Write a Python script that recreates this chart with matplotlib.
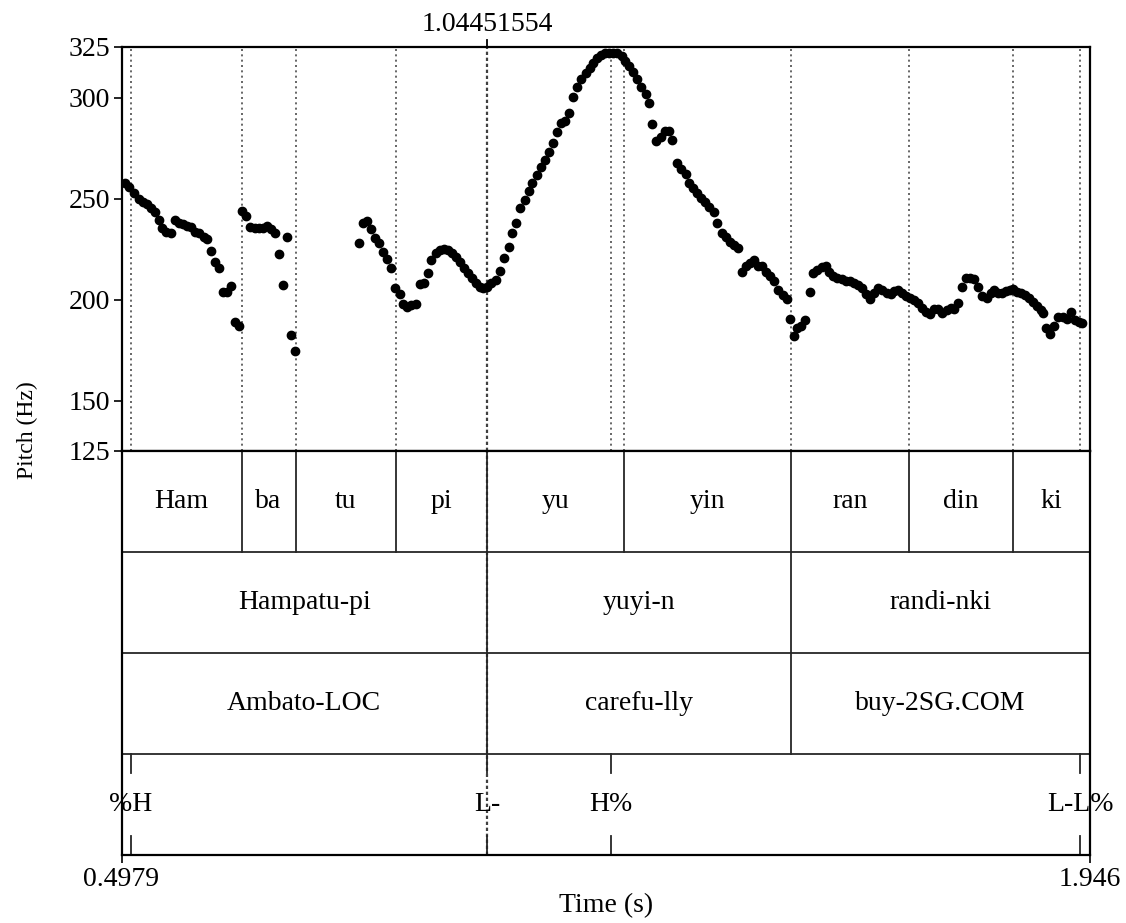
import matplotlib
matplotlib.use("Agg")
import matplotlib.pyplot as plt

plt.rcParams['font.family'] = ['Liberation Serif', 'DejaVu Serif']

# ---------------- data ----------------
t_start, t_end = 0.4979, 1.946
cursor_time = 1.04451554
cursor_label = "1.04451554"

pitch_time = [
    0.5024, 0.5088, 0.5173, 0.5238, 0.5298, 0.5357, 0.5423, 0.5473, 0.5533, 0.5588,
    0.5648, 0.5712, 0.5772, 0.5832, 0.5896, 0.5956, 0.6022, 0.6082, 0.6135, 0.6206,
    0.6261, 0.6321, 0.6381, 0.6435, 0.6495, 0.6554, 0.6614, 0.6669, 0.6734,
    0.6785, 0.6845, 0.6904, 0.6969, 0.7029, 0.7093, 0.7153, 0.7219, 0.7278, 0.7332,
    0.7392, 0.7458, 0.7518, 0.7578,
    0.8529, 0.8589, 0.8655, 0.8715, 0.8774, 0.8828, 0.8888, 0.8954, 0.9014, 0.9073,
    0.9138, 0.9187, 0.9253, 0.9313, 0.9377, 0.9437, 0.9501, 0.9561, 0.9612, 0.9676,
    0.9736, 0.9801, 0.9860, 0.9926, 0.9986, 1.0046, 1.0100, 1.0160, 1.0219, 1.0285,
    1.0345, 1.0384, 1.0444, 1.0510, 1.0574, 1.0644, 1.0698, 1.0768, 1.0824, 1.0884,
    1.0943, 1.1008, 1.1068, 1.1123, 1.1192, 1.1247, 1.1307, 1.1371, 1.1431, 1.1491,
    1.1557, 1.1617, 1.1671, 1.1730, 1.1790, 1.1856, 1.1920, 1.1980, 1.2030, 1.2090,
    1.2155, 1.2205, 1.2269, 1.2329, 1.2389, 1.2455, 1.2514, 1.2568, 1.2628, 1.2688,
    1.2754, 1.2814, 1.2868, 1.2918, 1.2978, 1.3042, 1.3102, 1.3166, 1.3217, 1.3286,
    1.3341, 1.3412, 1.3461, 1.3526, 1.3586, 1.3651, 1.3701, 1.3765, 1.3835, 1.3885,
    1.3951, 1.4015, 1.4075, 1.4135, 1.4190, 1.4250, 1.4310, 1.4374, 1.4434, 1.4498,
    1.4558, 1.4613, 1.4673, 1.4733, 1.4797, 1.4863, 1.4923,
    1.4972, 1.5032, 1.5072, 1.5132, 1.5197, 1.5271, 1.5321, 1.5381, 1.5447, 1.5506,
    1.5560, 1.5620, 1.5680, 1.5746, 1.5806, 1.5870, 1.5930, 1.5994, 1.6054, 1.6109,
    1.6169, 1.6229, 1.6293, 1.6353, 1.6419, 1.6479, 1.6533, 1.6593, 1.6653, 1.6708,
    1.6768, 1.6832, 1.6883, 1.6942, 1.7002, 1.7067, 1.7127, 1.7191, 1.7251, 1.7317,
    1.7376, 1.7430, 1.7490, 1.7550, 1.7605, 1.7665, 1.7729, 1.7789, 1.7849, 1.7915,
    1.7975, 1.8029, 1.8089, 1.8149, 1.8204, 1.8264, 1.8313, 1.8373, 1.8429, 1.8488,
    1.8548, 1.8603, 1.8663, 1.8723, 1.8762, 1.8798, 1.8862, 1.8926, 1.8986, 1.9052,
    1.9112, 1.9172, 1.9236, 1.9301, 1.9337,
]
pitch_hz = [
    257.5, 255.9, 252.9, 249.6, 248.4, 247.3, 245.1, 243.5, 239.4, 235.2,
    233.6, 233.1, 239.4, 238.0, 237.2, 236.4, 235.7, 233.6, 233.1, 231.1,
    229.8, 224.2, 218.4, 215.7, 203.9, 203.9, 206.8, 189.0, 187.0,
    244.0, 241.5, 235.7, 235.5, 235.5, 235.2, 236.4, 234.9, 232.8, 222.5,
    207.2, 231.1, 182.6, 174.5,
    228.1, 238.0, 238.9, 234.8, 230.6, 227.8, 223.7, 219.9, 215.4, 205.5,
    202.7, 197.8, 196.4, 197.3, 197.6, 207.7, 208.0, 213.0, 219.6, 222.9,
    224.5, 224.8, 224.5, 223.2, 221.2, 218.7, 215.7, 213.0, 210.5, 208.3,
    206.3, 205.5, 206.3, 208.0, 209.7, 214.1, 220.7, 225.8, 232.8, 237.7,
    245.1, 249.3, 253.9, 257.5, 261.6, 265.4, 269.1, 273.2, 277.6, 283.1,
    287.2, 288.5, 292.5, 300.4, 305.3, 309.0, 312.0, 314.5, 316.9, 319.4,
    321.0, 321.9, 322.2, 322.2, 321.9, 320.5, 318.2, 315.6, 312.8, 309.0,
    305.3, 301.7, 297.1, 286.9, 278.6, 280.6, 283.6, 283.6, 279.0, 267.7,
    264.5, 262.1, 257.8, 255.0, 252.6, 250.4, 248.1, 245.9, 243.5, 238.0,
    233.1, 230.8, 228.3, 227.0, 225.6, 213.5, 216.6, 218.2, 219.6, 216.6,
    216.6, 213.8, 211.6, 209.2, 204.7, 202.2, 200.1,
    190.3, 181.9, 185.7, 186.9, 189.9, 203.6, 213.3, 214.6, 216.2, 216.6,
    213.8, 211.6, 210.5, 210.0, 209.3, 209.2, 208.3, 207.2, 205.5, 202.7,
    200.1, 203.4, 205.5, 204.7, 203.4, 202.7, 204.2, 204.7, 203.1, 201.7,
    200.9, 199.8, 198.1, 195.6, 194.0, 192.8, 195.1, 195.1, 193.5, 194.8,
    195.6, 195.1, 198.1, 206.3, 210.5, 210.5, 210.0, 206.3, 201.7, 200.9,
    203.1, 204.7, 203.4, 203.1, 204.2, 204.7, 205.1, 203.9, 203.1, 202.2,
    200.5, 198.9, 196.8, 194.8, 193.5, 185.7, 182.9, 186.9, 191.5, 191.2,
    190.3, 194.0, 189.9, 188.8, 188.3,
]

pitch_ticks = [125, 150, 200, 250, 300, 325]
pitch_min, pitch_max = 125, 325

syllable_bounds = [0.4979, 0.6774, 0.7582, 0.9078, 1.0445, 1.2488, 1.4986, 1.6752, 1.8307, 1.946]
syllable_labels = ["Ham", "ba", "tu", "pi", "yu", "yin", "ran", "din", "ki"]
word_bounds = [0.4979, 1.0445, 1.4986, 1.946]
word_labels = ["Hampatu-pi", "yuyi-n", "randi-nki"]
gloss_bounds = [0.4979, 1.0445, 1.4986, 1.946]
gloss_labels = ["Ambato-LOC", "carefu-lly", "buy-2SG.COM"]
tone_times = [0.5114, 1.0445, 1.2294, 1.9310]
tone_labels = ["%H", "L-", "H%", "L-L%"]

# ---------------- figure ----------------
W, H = 1126, 923
fig = plt.figure(figsize=(W / 100, H / 100), dpi=100)
left_px, right_px = 121.5, 1090
top_px, mid_px, bot_px = 47, 451, 855
axw = (right_px - left_px) / W
ax_p = fig.add_axes([left_px / W, (H - mid_px) / H, axw, (mid_px - top_px) / H])
ax_t = fig.add_axes([left_px / W, (H - bot_px) / H, axw, (bot_px - mid_px) / H])

FS = 20
FS_Y = 17
border_lw = 1.6
line_col = '0.15'
dot_col = '0.3'

# pitch panel
ax_p.plot(pitch_time, pitch_hz, 'o', ms=6.0, color='black', mec='black', zorder=3)
ax_p.set_xlim(t_start, t_end)
ax_p.set_ylim(pitch_min, pitch_max)
ax_p.set_yticks(pitch_ticks)
ax_p.set_yticklabels([str(v) for v in pitch_ticks], fontsize=FS)
ax_p.tick_params(axis='y', direction='out', length=6, width=1.2, pad=2)
ax_p.set_xticks([])
for s in ax_p.spines.values():
    s.set_linewidth(border_lw)

dotted_times = sorted(set(syllable_bounds[1:-1] + tone_times))
for t in dotted_times:
    if abs(t - cursor_time) < 0.002:
        continue
    ax_p.axvline(t, color=dot_col, lw=1.2, ls=(0, (1.2, 2.0)), zorder=1)

# cursor line across both panels
for ax in (ax_p, ax_t):
    ax.axvline(cursor_time, color='0.25', lw=1.6, ls=(0, (1.5, 1.2)), zorder=2)
ax_p.plot([cursor_time, cursor_time], [pitch_max, pitch_max + 3.5], color='black',
          lw=1.3, clip_on=False)
ax_p.annotate(cursor_label, xy=(cursor_time, pitch_max), xytext=(0, 7),
              textcoords='offset points', ha='center', va='bottom', fontsize=FS)

# tier panel
ax_t.set_xlim(t_start, t_end)
ax_t.set_ylim(4, 0)
ax_t.set_yticks([])
ax_t.set_xticks([t_start, t_end])
ax_t.set_xticklabels(["0.4979", "1.946"], fontsize=FS)
ax_t.tick_params(axis='x', direction='out', length=6, width=1.2, pad=3)
for s in ax_t.spines.values():
    s.set_linewidth(border_lw)
for yb in (1, 2, 3):
    ax_t.axhline(yb, color=line_col, lw=1.3)


def draw_interval_tier(row, bounds, labels):
    for b in bounds[1:-1]:
        ax_t.plot([b, b], [row, row + 1], color=line_col, lw=1.3)
    for a, b, lab in zip(bounds[:-1], bounds[1:], labels):
        ax_t.text((a + b) / 2, row + 0.5, lab, ha='center', va='center', fontsize=FS)


draw_interval_tier(0, syllable_bounds, syllable_labels)
draw_interval_tier(1, word_bounds, word_labels)
draw_interval_tier(2, gloss_bounds, gloss_labels)

for t, lab in zip(tone_times, tone_labels):
    ax_t.plot([t, t], [3, 3.19], color=line_col, lw=1.3)
    ax_t.plot([t, t], [3.81, 4], color=line_col, lw=1.3)
    ax_t.text(t, 3.5, lab, ha='center', va='center', fontsize=FS)

fig.text(27 / W, 1 - 430 / H, "Pitch (Hz)", rotation=90, ha='center', va='center', fontsize=FS_Y)
fig.text(606 / W, 1 - 906 / H, "Time (s)", ha='center', va='center', fontsize=FS)

fig.savefig("out.png", dpi=100, facecolor='white')
